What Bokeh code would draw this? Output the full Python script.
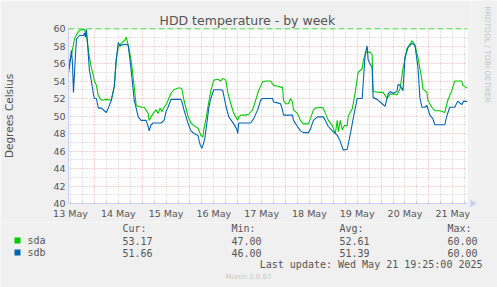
from math import pi
from bokeh.plotting import figure
from bokeh.layouts import column, row
from bokeh.models import FixedTicker, Span, Range1d
from bokeh.core.properties import value
from bokeh.embed import file_html
from bokeh.resources import INLINE

# ---------------- data (hours since 13 May 00:00) ----------------
sda_hours = [11.0, 11.5, 12.5, 14.0, 15.0, 16.5, 19.0, 20.0, 21.5, 22.5, 23.5, 24.0, 25.0, 26.0,
             27.5, 30.0, 32.5, 34.0, 35.0, 36.0, 37.5, 39.0, 40.0, 41.0, 42.5, 44.0, 45.0, 47.5,
             49.0, 51.0, 51.5, 52.5, 53.5, 55.0, 56.0, 57.0, 58.0, 59.0, 60.0, 61.0, 62.5, 64.0,
             66.0, 67.5, 68.0, 69.0, 71.0, 72.5, 74.0, 76.0, 77.5, 78.5, 79.0, 80.0, 81.0, 82.5,
             84.0, 86.0, 87.5, 88.5, 90.0, 91.0, 92.5, 94.0, 96.0, 96.5, 97.5, 100.0, 101.5, 103.5,
             105.0, 106.5, 108.5, 110.0, 112.5, 114.0, 116.0, 117.5, 118.5, 119.0, 120.0, 121.5,
             122.5, 123.5, 124.0, 126.0, 127.5, 129.0, 131.5, 132.5, 134.0, 135.0, 137.5, 139.0,
             140.0, 141.5, 143.5, 145.0, 146.0, 146.5, 147.5, 148.5, 149.5, 151.0, 151.5, 153.5,
             155.0, 156.5, 158.5, 159.0, 160.5, 162.5, 163.5, 164.0, 167.5, 169.0, 171.0, 172.5,
             175.0, 176.0, 177.5, 179.0, 181.0, 183.0, 183.5, 185.0, 186.5, 188.5, 189.0, 191.0,
             191.5, 193.5, 195.0, 197.5, 200.0, 201.5, 203.5, 205.0, 207.5, 208.5, 209.0, 211.4]
sda_values = [55.0, 56.3, 57.0, 58.8, 59.3, 59.8, 59.9, 59.2, 56.7, 55.5, 54.6, 54.0, 53.5, 52.3,
              51.8, 51.9, 51.8, 53.4, 56.5, 57.9, 58.3, 58.6, 59.0, 58.1, 56.3, 53.3, 51.2, 51.0,
              51.0, 50.3, 49.5, 49.9, 50.3, 50.7, 50.3, 50.9, 50.5, 51.0, 51.3, 51.8, 52.6, 53.0,
              53.2, 53.2, 53.0, 51.8, 50.0, 49.2, 48.9, 48.6, 47.8, 47.6, 48.5, 49.6, 51.0, 52.9,
              54.1, 54.2, 54.0, 54.3, 54.1, 52.7, 51.4, 50.3, 49.5, 49.9, 50.1, 50.1, 50.2, 50.7,
              51.8, 52.9, 53.9, 54.0, 54.0, 53.5, 53.4, 53.3, 53.3, 51.8, 51.4, 51.4,
              52.0, 51.6, 50.7, 50.3, 49.5, 49.1, 49.1, 49.7, 50.7, 50.9, 51.0, 50.9,
              50.3, 49.5, 48.9, 48.0, 49.5, 48.2, 49.5, 48.4, 48.9, 48.9, 50.0, 50.8,
              52.7, 55.0, 55.4, 56.3, 57.3, 57.3, 57.0, 52.8, 52.7, 52.7, 52.0, 52.5,
              52.5, 52.4, 53.1, 55.4, 57.7, 58.4, 58.6, 58.1, 56.7, 54.1, 53.1, 52.7,
              51.8, 51.0, 50.6, 50.6, 50.4, 51.8, 52.9, 54.0, 54.0, 54.0, 53.5, 53.17]

sdb_hours = [11.0, 12.0, 12.5, 13.0, 13.5, 14.5, 15.0, 16.5, 18.5, 19.0, 19.5, 20.0, 20.5, 21.5,
             22.5, 23.5, 24.0, 25.0, 26.0, 27.5, 29.0, 30.0, 31.0, 32.5, 34.0, 35.0, 36.0, 37.0,
             37.5, 39.5, 41.0, 42.5, 44.0, 45.0, 46.0, 47.5, 50.0, 51.0, 51.5, 52.5, 53.5, 57.5,
             59.0, 60.0, 61.0, 62.5, 67.5, 68.0, 69.0, 71.0, 72.5, 74.0, 76.0, 77.0, 78.0, 79.0,
             79.5, 80.5, 81.5, 82.5, 84.0, 87.5, 88.5, 90.0, 91.5, 94.0, 95.5, 96.0, 96.5, 102.5,
             104.0, 106.0, 107.5, 108.5, 113.5, 114.0, 116.0, 117.5, 118.5, 119.0, 123.5, 124.0,
             126.0, 127.5, 129.0, 131.5, 132.5, 134.0, 136.0, 139.0, 140.0, 141.5, 143.5, 146.0,
             147.5, 149.0, 151.0, 152.5, 154.0, 156.0, 158.5, 160.0, 161.0, 161.5, 163.5, 164.0,
             166.0, 168.5, 170.0, 171.5, 172.5, 174.0, 176.0, 176.5, 177.5, 179.0, 180.0, 181.5,
             183.5, 185.0, 186.5, 187.5, 188.5, 190.0, 191.0, 192.5, 194.0, 195.0, 200.0, 201.0,
             202.5, 205.0, 206.5, 208.5, 209.5, 211.4]
sdb_values = [54.9, 56.5, 57.5, 56.0, 52.7, 57.0, 58.8, 59.2, 59.2, 59.5, 59.0, 59.9, 58.5, 55.2,
              54.0, 52.5, 52.0, 52.0, 50.9, 50.9, 50.6, 50.4, 50.9, 51.8, 53.4, 56.5, 58.4, 58.0,
              58.1, 58.2, 58.1, 55.2, 51.8, 50.9, 49.9, 49.5, 49.5, 48.8, 48.3, 49.0, 49.2, 49.2,
              49.5, 50.5, 51.0, 51.9, 51.9, 51.6, 50.7, 49.2, 48.3, 48.0, 47.8, 46.8, 46.3, 47.0,
              47.5, 49.2, 51.0, 52.0, 53.0, 53.0, 52.9, 51.2, 49.9, 49.1, 48.5, 48.0, 49.2, 49.2,
              49.7, 50.7, 51.8, 52.0, 52.0, 51.6, 51.5, 51.4, 50.7, 50.1, 50.1, 49.5,
              48.8, 48.3, 48.1, 48.1, 48.5, 49.5, 49.9, 49.9, 49.5, 48.8, 48.3, 47.8,
              47.1, 46.1, 46.2, 47.9, 49.7, 52.0, 52.0, 57.1, 58.0, 56.4, 55.5, 52.1,
              51.9, 51.4, 51.1, 52.5, 52.8, 52.6, 52.8, 53.6, 53.5, 52.9, 56.7, 57.8,
              58.3, 58.1, 55.6, 52.1, 51.0, 51.0, 51.2, 50.1, 49.7, 49.0, 49.0, 50.0,
              51.0, 51.0, 51.7, 51.3, 51.7, 51.66]

day_labels = ["13 May", "14 May", "15 May", "16 May", "17 May", "18 May", "19 May", "20 May", "21 May"]
y_ticks = [40, 42, 44, 46, 48, 50, 52, 54, 56, 58, 60]
warn_level = 60

series_names = ["sda", "sdb"]
series_colors = ["#00CC00", "#0066B3"]
cur_vals = ["53.17", "51.66"]
min_vals = ["47.00", "46.00"]
avg_vals = ["52.61", "51.39"]
max_vals = ["60.00", "60.00"]

# ---------------- layout constants (canvas px) ----------------
W, H = 497, 287
MAIN_W, MAIN_H = 470, 222
FL, FR, FT, FB = 67, 467, 28, 203
TXT = "#555555"
BG = "#F0F0F0"
AX = "#C8CFF2"
SANS = "DejaVu Sans"
MONO = "DejaVu Sans Mono"

# ---------------- main plot ----------------
p = figure(width=MAIN_W, height=MAIN_H, output_backend="svg", toolbar_location=None,
           x_range=(11.0, 211.4), y_range=(40, 60),
           min_border_left=FL, min_border_right=MAIN_W - FR, min_border_top=FT,
           min_border_bottom=MAIN_H - FB,
           background_fill_color="white", border_fill_color=BG, outline_line_color=None,
           title="HDD temperature - by week")

p.title.align = "left"
p.title.offset = 91
p.title.standoff = 2
p.title.text_font = SANS
p.title.text_font_size = "12.5px"
p.title.text_font_style = "normal"
p.title.text_color = TXT

label_ticks = [12 + 24 * i for i in range(len(day_labels))]
mid_ticks = [24 * i for i in range(1, 9)]
six_ticks = [h for h in range(12, 212, 6) if h % 24 != 0]

p.xaxis.ticker = FixedTicker(ticks=label_ticks, minor_ticks=list(range(12, 212, 6)))
p.xaxis.major_label_overrides = {t: s for t, s in zip(label_ticks, day_labels)}
p.xaxis.major_tick_line_color = None
p.xaxis.major_tick_in = 0
p.xaxis.major_tick_out = 0
p.xaxis.minor_tick_line_color = "#BBBBBB"
p.xaxis.minor_tick_in = 2
p.xaxis.minor_tick_out = 0
p.xaxis.major_label_standoff = 4
p.xaxis.axis_line_color = AX

p.yaxis.ticker = FixedTicker(ticks=y_ticks, minor_ticks=list(range(41, 60, 2)))
p.yaxis.major_tick_line_color = None
p.yaxis.major_tick_in = 0
p.yaxis.major_tick_out = 0
p.yaxis.minor_tick_line_color = None
p.yaxis.minor_tick_in = 0
p.yaxis.minor_tick_out = 0
p.yaxis.major_label_standoff = 3
p.yaxis.axis_line_color = AX
p.yaxis.axis_label = "Degrees Celsius"
p.yaxis.axis_label_text_font = SANS
p.yaxis.axis_label_text_font_size = "10.5px"
p.yaxis.axis_label_text_font_style = "normal"
p.yaxis.axis_label_text_color = TXT
p.yaxis.axis_label_standoff = 35

for ax in (p.xaxis[0], p.yaxis[0]):
    ax.major_label_text_font = SANS
    ax.major_label_text_font_size = "9.5px"
    ax.major_label_text_color = TXT

p.xgrid.ticker = FixedTicker(ticks=mid_ticks, minor_ticks=six_ticks)
p.ygrid.ticker = FixedTicker(ticks=y_ticks, minor_ticks=list(range(41, 60, 2)))
for g in (p.xgrid[0], p.ygrid[0]):
    g.grid_line_color = "#E07878"
    g.grid_line_alpha = 0.7
    g.grid_line_dash = "1 2"
    g.minor_grid_line_color = "#A0A0A0"
    g.minor_grid_line_alpha = 0.6
    g.minor_grid_line_dash = "1 2"

p.line(sda_hours, sda_values, line_color=series_colors[0], line_width=1.1)
p.line(sdb_hours, sdb_values, line_color=series_colors[1], line_width=1.1)
p.add_layout(Span(location=warn_level, dimension="width", line_color="#00CC00",
                  line_dash="6 3", line_width=1.5))


def blank(w, h, ox, oy):
    f = figure(width=w, height=h, output_backend="svg", toolbar_location=None,
               x_range=Range1d(ox, ox + w), y_range=Range1d(oy + h, oy),
               x_axis_type=None, y_axis_type=None,
               min_border_left=0, min_border_right=0, min_border_top=0, min_border_bottom=0,
               background_fill_color=BG, border_fill_color=BG, outline_line_color=None)
    f.grid.visible = False
    return f


# ---------------- right strip ----------------
side = blank(W - MAIN_W, MAIN_H, MAIN_W, 0)
side.text(x=[487], y=[54], text=["RRDTOOL / TOBI OETIKER"], angle=-pi / 2,
          text_font=value(SANS), text_font_size=value("7.5px"), text_color="#C4C4C4",
          text_align="center", text_baseline="middle")
side.scatter(x=[471.5], y=[FB], marker="triangle", size=7, angle=-pi / 2,
             fill_color=AX, line_color=AX)

# ---------------- legend strip ----------------
leg = blank(W, H - MAIN_H, 0, MAIN_H)
cols = [122, 231, 339, 447]
leg.text(x=cols, y=[228] * 4, text=["Cur:", "Min:", "Avg:", "Max:"],
         text_font=value(MONO), text_font_size=value("10px"), text_color=TXT,
         text_align="left", text_baseline="middle")
rows_y = [240, 252]
for i, name in enumerate(series_names):
    cy = rows_y[i]
    leg.rect(x=[17], y=[cy], width=6, height=6, fill_color=series_colors[i], line_color=None)
    leg.text(x=[27] + cols, y=[cy] * 5,
             text=[name, cur_vals[i], min_vals[i], avg_vals[i], max_vals[i]],
             text_font=value(MONO), text_font_size=value("10px"), text_color=TXT,
             text_align="left", text_baseline="middle")
leg.text(x=[482], y=[264], text=["Last update: Wed May 21 19:25:00 2025"],
         text_font=value(MONO), text_font_size=value("10px"), text_color=TXT,
         text_align="right", text_baseline="middle")
leg.text(x=[248], y=[276], text=["Munin 2.0.67"],
         text_font=value(SANS), text_font_size=value("7px"), text_color="#C8C8C8",
         text_align="center", text_baseline="middle")

layout = column(row(column(p, spacing=0), column(side, spacing=0), spacing=0), leg, spacing=0)
open("out.html", "w").write(file_html(layout, INLINE))
